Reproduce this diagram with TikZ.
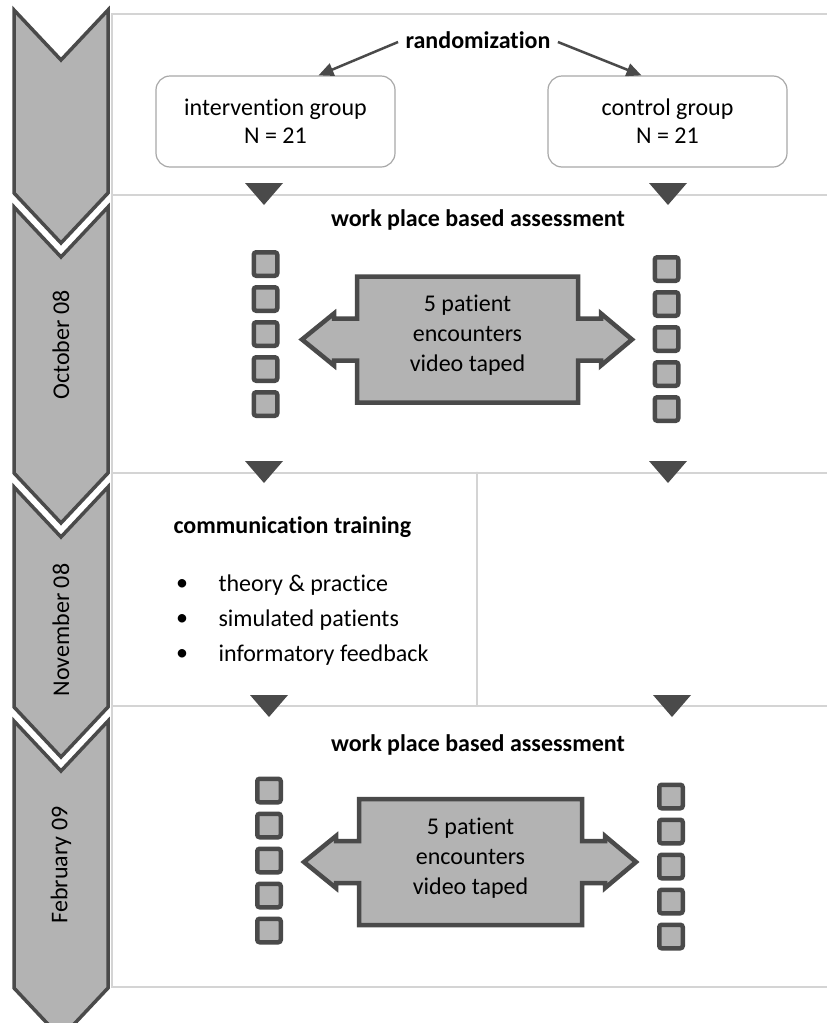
\documentclass[tikz,border=0pt]{standalone}
\usepackage{fontspec}
\setmainfont{Carlito}[Ligatures={NoCommon,NoContextual,NoRare}]
\usetikzlibrary{arrows.meta}
\definecolor{chevfill}{HTML}{B3B3B3}
\definecolor{darkline}{HTML}{4A4A4A}
\definecolor{framegray}{HTML}{D4D4D4}
\definecolor{boxgray}{HTML}{A8A8A8}
\begin{document}
\begin{tikzpicture}[x=1pt,y=-1pt,font=\fontsize{24}{28}\selectfont,line cap=round,
	frameline/.style={draw=framegray,line width=2pt},
	chev/.style={fill=chevfill,draw=darkline,line width=3.5pt,line join=miter},
	tick/.style={fill=darkline},
	sq/.style={fill=chevfill,draw=darkline,line width=4.5pt,rounded corners=2.5pt},
	dbl/.style={fill=chevfill,draw=darkline,line width=4.5pt,line join=miter},
	grp/.style={draw=boxgray,line width=1.2pt,rounded corners=14pt,minimum width=239pt,minimum height=91pt,align=center},
	head/.style={font=\fontsize{24}{28}\selectfont\bfseries},
	month/.style={rotate=90},
	randarrow/.style={draw=darkline,line width=2.5pt,line cap=butt,-{Triangle[length=15pt,width=13pt]}}]
	\useasboundingbox (0,0) rectangle (827,1023);
	\draw[frameline] (827,14)--(112,14)--(112,987)--(827,987);
	\draw[frameline] (112,195)--(827,195) (112,472.5)--(827,472.5) (112,706)--(827,706);
	\draw[frameline] (477,472.5)--(477,706);
	\foreach \t/\b in {10/193,207/473,487/707,721/988}
	\draw[chev] (14,\t)--(61,{\t+50})--(108,\t)--(108,\b)--(61,{\b+50})--(14,\b)--cycle;
	\node[month] (oct) at (61,345) {October 08};
	\node[month] (nov) at (61,630) {November 08};
	\node[month] (feb) at (61,865) {February 09};
	\foreach \x/\y in {264/183,668/183,264/461,668/461,269/695,672/695}
	\fill[tick] ({\x-19},\y)--({\x+19},\y)--(\x,{\y+22})--cycle;
	\node[head] (rand) at (478,40) {randomization};
	\node[grp] (ig) at (275.5,121.5) {intervention group\\N = 21};
	\node[grp] (cg) at (667.5,121.5) {control group\\N = 21};
	\draw[randarrow] ([xshift=-4pt,yshift=-2pt]rand.west) -- ([xshift=43pt]ig.north);
	\draw[randarrow] ([xshift=4pt,yshift=-2pt]rand.east) -- ([xshift=-26pt]cg.north);
	\node[head] (wpba1) at (478,220) {work place based assessment};
	\node[head] (wpba2) at (478,745) {work place based assessment};
	\foreach \cx/\cy in {265.5/264,666.5/269,269/790.5,671/796.5}
	\foreach \i in {0,...,4}
	\draw[sq] ({\cx-11.75},{\cy+35*\i-11.75}) rectangle ({\cx+11.75},{\cy+35*\i+11.75});
	\foreach \xl/\xr/\cy in {357/578/339.5,359/582/862}
	\draw[dbl] (\xl,{\cy-63})--(\xr,{\cy-63})--(\xr,{\cy-21})--({\xr+23},{\cy-21})--({\xr+23},{\cy-26})--({\xr+54},\cy)
	--({\xr+23},{\cy+26})--({\xr+23},{\cy+21})--(\xr,{\cy+21})--(\xr,{\cy+63})--(\xl,{\cy+63})--(\xl,{\cy+21})
	--({\xl-23},{\cy+21})--({\xl-23},{\cy+26})--({\xl-55},\cy)--({\xl-23},{\cy-26})--({\xl-23},{\cy-21})--(\xl,{\cy-21})--cycle;
	\node[align=center,font=\fontsize{24}{30}\selectfont] (enc1) at (467.5,335) {5 patient\\encounters\\video taped};
	\node[align=center,font=\fontsize{24}{30}\selectfont] (enc2) at (470.5,858) {5 patient\\encounters\\video taped};
	\node[head,anchor=west] (ct) at (170,527) {communication training};
	\foreach \n/\y/\s in {b1/585/theory \& practice,b2/620/simulated patients,b3/655/informatory feedback}{
	\node (dot\n) at (182,\y) {\textbullet};
	\node[anchor=west] (\n) at (215,\y) {\s};
	}
\end{tikzpicture}
\end{document}
